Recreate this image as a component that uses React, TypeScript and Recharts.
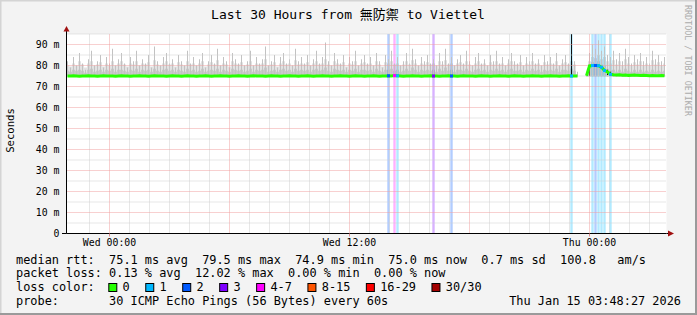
import React from 'react';
import {
  ComposedChart, Area, Bar, Line, Scatter, XAxis, YAxis, CartesianGrid,
  ReferenceLine, ReferenceArea,
} from 'recharts';

// ---- time sampling (hours relative to Wed 00:00) ----
const START_HOUR = -2.1;
const STEP_HOURS = 0.15;
const SMOKE_FLOOR = 74.8;

// ---- median rtt (ms) ----
const medianRtt: (number | null)[] = [
  75.0,75.0,75.1,75.0,74.9,75.0,75.0,75.1,75.0,75.0,74.9,75.0,75.1,75.0,75.0,75.0,74.9,75.0,75.1,75.0,
  75.0,74.9,75.0,75.0,75.1,75.0,75.0,74.9,75.0,75.1,75.0,75.0,75.0,74.9,75.0,75.1,75.0,75.0,74.9,75.0,
  75.1,75.0,75.0,74.9,75.0,75.0,75.1,75.0,74.9,75.0,75.0,75.1,75.0,75.0,74.9,75.0,75.0,75.1,75.0,75.0,
  74.9,75.0,75.1,75.0,75.0,75.0,74.9,75.0,75.1,75.0,75.0,74.9,75.0,75.0,75.1,75.0,75.0,74.9,75.0,75.0,
  75.1,75.0,74.9,75.0,75.0,75.1,75.0,75.0,74.9,75.0,75.0,75.1,75.0,75.0,74.9,75.0,75.1,75.0,75.0,74.9,
  75.0,75.0,75.1,75.0,74.9,75.0,75.0,75.1,75.0,75.2,75.1,75.0,74.9,75.0,75.0,75.1,75.0,75.0,74.9,75.0,
  75.0,75.1,75.0,75.0,74.9,75.0,75.0,75.1,75.0,75.0,74.9,75.0,75.1,75.0,75.0,75.0,74.9,75.0,75.1,75.0,
  75.0,74.9,75.0,75.0,75.1,75.0,75.0,74.9,75.0,75.1,75.0,75.0,74.9,75.0,75.0,75.1,75.0,75.0,74.9,75.0,
  75.0,75.1,75.0,75.0,74.9,75.0,75.0,75.1,75.0,75.0,75.0,null,null,75.1,79.8,80.0,80.0,79.9,79.2,77.6,
  77.0,75.8,75.6,75.5,75.6,75.4,75.5,75.3,75.4,75.5,75.3,75.2,75.3,75.2,75.1,75.2,75.1,75.1,75.2,75.1,
];

// ---- smoke: highest ping per sample ----
const smokeMax: (number | null)[] = [
  82,79,84,80,86,81,78,83,87,80,82,85,79,84,81,88,80,83,86,81,
  79,84,82,87,80,83,81,85,79,89,82,80,84,86,81,83,79,85,82,80,
  87,81,84,80,83,86,79,82,85,81,88,80,84,82,79,86,83,81,85,80,
  82,87,80,84,81,83,89,80,82,85,79,84,86,81,83,80,88,82,84,81,
  85,80,83,87,81,84,91,82,80,86,83,81,85,79,84,82,87,80,83,85,
  81,84,80,86,82,79,85,83,87,81,84,80,82,86,81,88,83,80,84,82,
  85,81,83,80,86,82,88,81,84,80,83,85,81,87,82,80,84,86,81,83,
  80,85,82,87,81,84,80,83,86,82,81,85,80,84,82,86,81,83,80,85,
  82,84,81,86,80,83,85,81,84,82,77,null,null,77,86,90,88,92,87,89,
  85,84,87,83,86,82,88,84,81,85,83,86,82,84,81,87,83,85,82,84,
];

// ---- smoke: upper quartile haze ----
const smokeHaze: (number | null)[] = [
  80,79.5,81,80,82,80.5,79,81,82,80,80.5,81.5,79.5,81,80,82,80,81,82,80.5,
  79.5,81,80.5,82,80,81,80.5,81.5,79.5,82.5,80.5,80,81,82,80.5,81,79.5,81.5,80.5,80,
  82,80.5,81,80,81,82,79.5,80.5,81.5,80.5,82.5,80,81,80.5,79.5,82,81,80.5,81.5,80,
  80.5,82,80,81,80.5,81,83,80,80.5,81.5,79.5,81,82,80.5,81,80,82.5,80.5,81,80.5,
  81.5,80,81,82,80.5,81,83,80.5,80,82,81,80.5,81.5,79.5,81,80.5,82,80,81,81.5,
  80.5,81,80,82,80.5,79.5,81.5,81,82,80.5,81,80,80.5,82,80.5,82.5,81,80,81,80.5,
  81.5,80.5,81,80,82,80.5,82.5,80.5,81,80,81,81.5,80.5,82,80.5,80,81,82,80.5,81,
  80,81.5,80.5,82,80.5,81,80,81,82,80.5,80.5,81.5,80,81,80.5,82,80.5,81,80,81.5,
  80.5,81,80.5,82,80,81,81.5,80.5,82,80.5,76,null,null,76.5,82,84,83.5,85,83,84,
  82,81,82.5,80.5,82,80,83,81,80,81.5,80.5,82,80,81,80,82.5,80.5,81.5,80,81,
];

// ---- smoke: dense core ----
const smokeCore: (number | null)[] = [
  77.5,77,78,77.5,78,77.5,76.5,78,78.5,77,77.5,78,77,78,77.5,78.5,77,78,78,77.5,
  77,78,77.5,78.5,77,78,77.5,78,77,78.5,77.5,77,78,78.5,77.5,78,77,78,77.5,77,
  78.5,77.5,78,77,77.5,78.5,77,77.5,78,77.5,78.5,77,78,77.5,77,78.5,78,77.5,78,77,
  77.5,78.5,77,78,77.5,78,79,77,77.5,78,77,78,78.5,77.5,78,77,78.5,77.5,78,77.5,
  78,77,78,78.5,77.5,78,79,77.5,77,78.5,78,77.5,78,77,78,77.5,78.5,77,78,78,
  77.5,78,77,78.5,77.5,77,78,78,78.5,77.5,78,77,77.5,78.5,77.5,79,78,77,78,77.5,
  78,77.5,78,77,78.5,77.5,79,77.5,78,77,78,78,77.5,78.5,77.5,77,78,78.5,77.5,78,
  77,78,77.5,78.5,77.5,78,77,78,78.5,77.5,77.5,78,77,78,77.5,78.5,77.5,78,77,78,
  77.5,78,77.5,78.5,77,78,78,77.5,78.5,77.5,75.6,null,null,75.8,80.5,81.5,81,82,80.5,80,
  78.5,77.5,78,77,78,77,78.5,77.5,77,78,77,78,77,77.5,77,78,77,77.5,77,77.5,
];

// ---- dark smoke streaks ----
const darkSmokeIndex = [168, 174, 180, 181];
const darkSmokeLow = [75.0, 75.0, 75.5, 75.3];
const darkSmokeHigh = [95, 80, 78, 77];

// ---- packet loss events (sample index, loss bucket) ----
const lossIndex = [107, 109, 110, 122, 128, 168, 175, 176, 177, 178, 179, 181];
const lossBucket = [2, 4, 1, 3, 2, 1, 1, 2, 1, 1, 1, 1];

const lossLabels = ['0', '1', '2', '3', '4-7', '8-15', '16-29', '30/30'];
const lossColors = ['#26ff00', '#00b8ff', '#0059ff', '#7e00ff', '#ff00ff', '#ff5500', '#ff0000', '#a10000'];

// ---- axes ----
const xTickValues = [0, 12, 24];
const xTickLabels = ['Wed 00:00', 'Wed 12:00', 'Thu 00:00'];
const yTickValues = [0, 10, 20, 30, 40, 50, 60, 70, 80, 90];
const majorHourLines = [0, 6, 12, 18, 24];
const minorHourLines = [-1, 1, 2, 3, 4, 5, 7, 8, 9, 10, 11, 13, 14, 15, 16, 17, 19, 20, 21, 22, 23, 25, 26, 27];
const majorValueLines = [10, 20, 30, 40, 50, 60, 70, 80, 90];
const minorValueLines = [5, 15, 25, 35, 45, 55, 65, 75, 85, 95];

// ---- legend texts ----
const titleText = 'Last 30 Hours from 無防禦 to Viettel';
const rttLine = 'median rtt:  75.1 ms avg  79.5 ms max  74.9 ms min  75.0 ms now  0.7 ms sd  100.8   am/s';
const lossLine = 'packet loss: 0.13 % avg  12.02 % max  0.00 % min  0.00 % now';
const probeLine = 'probe:       30 ICMP Echo Pings (56 Bytes) every 60s';
const dateText = 'Thu Jan 15 03:48:27 2026';

const data = medianRtt.map((m, i) => {
  const d = darkSmokeIndex.indexOf(i);
  return {
    t: START_HOUR + i * STEP_HOURS,
    median: m,
    haze: smokeHaze[i] == null ? null : [SMOKE_FLOOR, smokeHaze[i]],
    core: smokeCore[i] == null ? null : [SMOKE_FLOOR, smokeCore[i]],
    spike: smokeMax[i] == null ? null : [SMOKE_FLOOR, smokeMax[i]],
    dark: d >= 0 ? [darkSmokeLow[d], darkSmokeHigh[d]] : null,
  };
});

const lossPoints = lossIndex.map((idx, k) => ({
  t: START_HOUR + idx * STEP_HOURS,
  median: medianRtt[idx],
  bucket: lossBucket[k],
}));

const MONO = "'DejaVu Sans Mono', 'Noto Sans CJK TC', monospace";
const CW = 7.16; // legend char advance

const LossSquare = (props: any) => {
  const { cx, cy, payload } = props;
  if (cx == null || cy == null) return null;
  return <rect x={cx - 1.5} y={cy - 1.5} width={3} height={3} fill={lossColors[payload.bucket]} />;
};

function Swatches() {
  const items: React.ReactNode[] = [];
  let x = 108.3;
  lossLabels.forEach((lab, k) => {
    items.push(
      <rect key={'s' + k} x={x + 0.5} y={283.5} width={8} height={8} fill={lossColors[k]} stroke="#000" strokeWidth={1} />,
    );
    items.push(
      <text key={'l' + k} x={x + 14.3} y={291.3} fontSize={11.9} fontFamily={MONO} fill="#000">{lab}</text>,
    );
    x = x + 15.5 + lab.length * CW + 14.3;
  });
  return <g>{items}</g>;
}

export default function App() {
  return (
    <div style={{ position: 'absolute', left: 0, top: 0, width: 697, height: 315, background: '#f3f3f3', overflow: 'hidden' }}>
      <ComposedChart
        width={697}
        height={315}
        data={data}
        margin={{ top: 34, right: 30.5, bottom: 0, left: 0 }}
        barGap={-1}
      >
        <CartesianGrid horizontal={false} vertical={false} fill="#ffffff" />
        <XAxis
          dataKey="t"
          type="number"
          domain={[-2.15, 27.85]}
          allowDataOverflow
          ticks={xTickValues}
          interval={0}
          tickFormatter={(v: number) => xTickLabels[xTickValues.indexOf(v)] ?? ''}
          height={81.5}
          tick={{ fontSize: 9.85, fontFamily: MONO, fill: '#000' }}
          tickLine={{ stroke: '#e08a8a' }}
          tickSize={3}
          tickMargin={2.5}
          axisLine={{ stroke: '#000' }}
        />
        <YAxis
          type="number"
          domain={[0, 95]}
          allowDataOverflow
          ticks={yTickValues}
          interval={0}
          tickFormatter={(v: number) => (v === 0 ? '0' : `${v} m`)}
          width={66.5}
          tick={{ fontSize: 9.85, fontFamily: MONO, fill: '#000' }}
          tickLine={false}
          tickSize={3}
          tickMargin={4}
          axisLine={{ stroke: '#000' }}
        />
        {minorHourLines.map((h) => (
          <ReferenceLine key={'mh' + h} x={h} stroke="#cfcfcf" strokeDasharray="1 1" />
        ))}
        {minorValueLines.map((v) => (
          <ReferenceLine key={'mv' + v} y={v} stroke="#cfcfcf" strokeDasharray="1 1" />
        ))}
        {majorHourLines.map((h) => (
          <ReferenceLine key={'Mh' + h} x={h} stroke="#f0a0a0" strokeDasharray="1 1" />
        ))}
        {majorValueLines.map((v) => (
          <ReferenceLine key={'Mv' + v} y={v} stroke="#f0a0a0" strokeDasharray="1 1" />
        ))}
        <Area dataKey="haze" type="step" stroke="none" fill="#e2e2e2" fillOpacity={1} isAnimationActive={false} />
        <Bar dataKey="spike" barSize={1} fill="#c2c2c2" isAnimationActive={false} />
        <Area dataKey="core" type="step" stroke="none" fill="#c6c6c6" fillOpacity={0.9} isAnimationActive={false} />
        <Bar dataKey="dark" barSize={1} fill="#111111" isAnimationActive={false} />
        {lossPoints.map((p, k) => (
          <ReferenceArea
            key={'loss' + k}
            x1={p.t - STEP_HOURS * 0.4}
            x2={p.t + STEP_HOURS * 0.4}
            fill={lossColors[p.bucket]}
            fillOpacity={0.3}
            stroke="none"
          />
        ))}
        <Line dataKey="median" type="linear" stroke="#26ff00" strokeWidth={3} dot={false} isAnimationActive={false} />
        <Scatter data={lossPoints} dataKey="median" shape={LossSquare} isAnimationActive={false} />
      </ComposedChart>
      <svg width={697} height={315} style={{ position: 'absolute', left: 0, top: 0, pointerEvents: 'none' }}>
        <rect x={0} y={0} width={697} height={1.5} fill="#d4d4d4" />
        <rect x={0} y={0} width={1.5} height={315} fill="#d4d4d4" />
        <rect x={695} y={0} width={2} height={315} fill="#9a9a9a" />
        <rect x={0} y={313} width={697} height={2} fill="#9a9a9a" />
        <text x={348} y={19} textAnchor="middle" fontSize={13} fontFamily={MONO} fill="#000">{titleText}</text>
        <text x={14} y={130.5} transform="rotate(-90 14 130.5)" textAnchor="middle" fontSize={10.6} fontFamily={MONO} fill="#000">Seconds</text>
        <text x={685} y={60.5} transform="rotate(90 685 60.5)" textAnchor="middle" fontSize={8.4} fontFamily={MONO} fill="#ababab">RRDTOOL / TOBI OETIKER</text>
        <line x1={62} y1={233.5} x2={66.5} y2={233.5} stroke="#000" />
        <line x1={666.5} y1={233.5} x2={669} y2={233.5} stroke="#000" />
        <line x1={66.5} y1={30} x2={66.5} y2={34} stroke="#000" />
        <polygon points="63.5,31.5 69.5,31.5 66.5,26" fill="#a01010" />
        <polygon points="668,230.5 668,236.5 674,233.5" fill="#a01010" />
        <text x={16} y={263.5} fontSize={11.9} fontFamily={MONO} fill="#000" style={{ whiteSpace: 'pre' }}>{rttLine}</text>
        <text x={16} y={277.4} fontSize={11.9} fontFamily={MONO} fill="#000" style={{ whiteSpace: 'pre' }}>{lossLine}</text>
        <text x={16} y={291.3} fontSize={11.9} fontFamily={MONO} fill="#000">loss color:</text>
        <Swatches />
        <text x={16} y={305.2} fontSize={11.9} fontFamily={MONO} fill="#000" style={{ whiteSpace: 'pre' }}>{probeLine}</text>
        <text x={681} y={305.2} textAnchor="end" fontSize={11.9} fontFamily={MONO} fill="#000">{dateText}</text>
      </svg>
    </div>
  );
}
